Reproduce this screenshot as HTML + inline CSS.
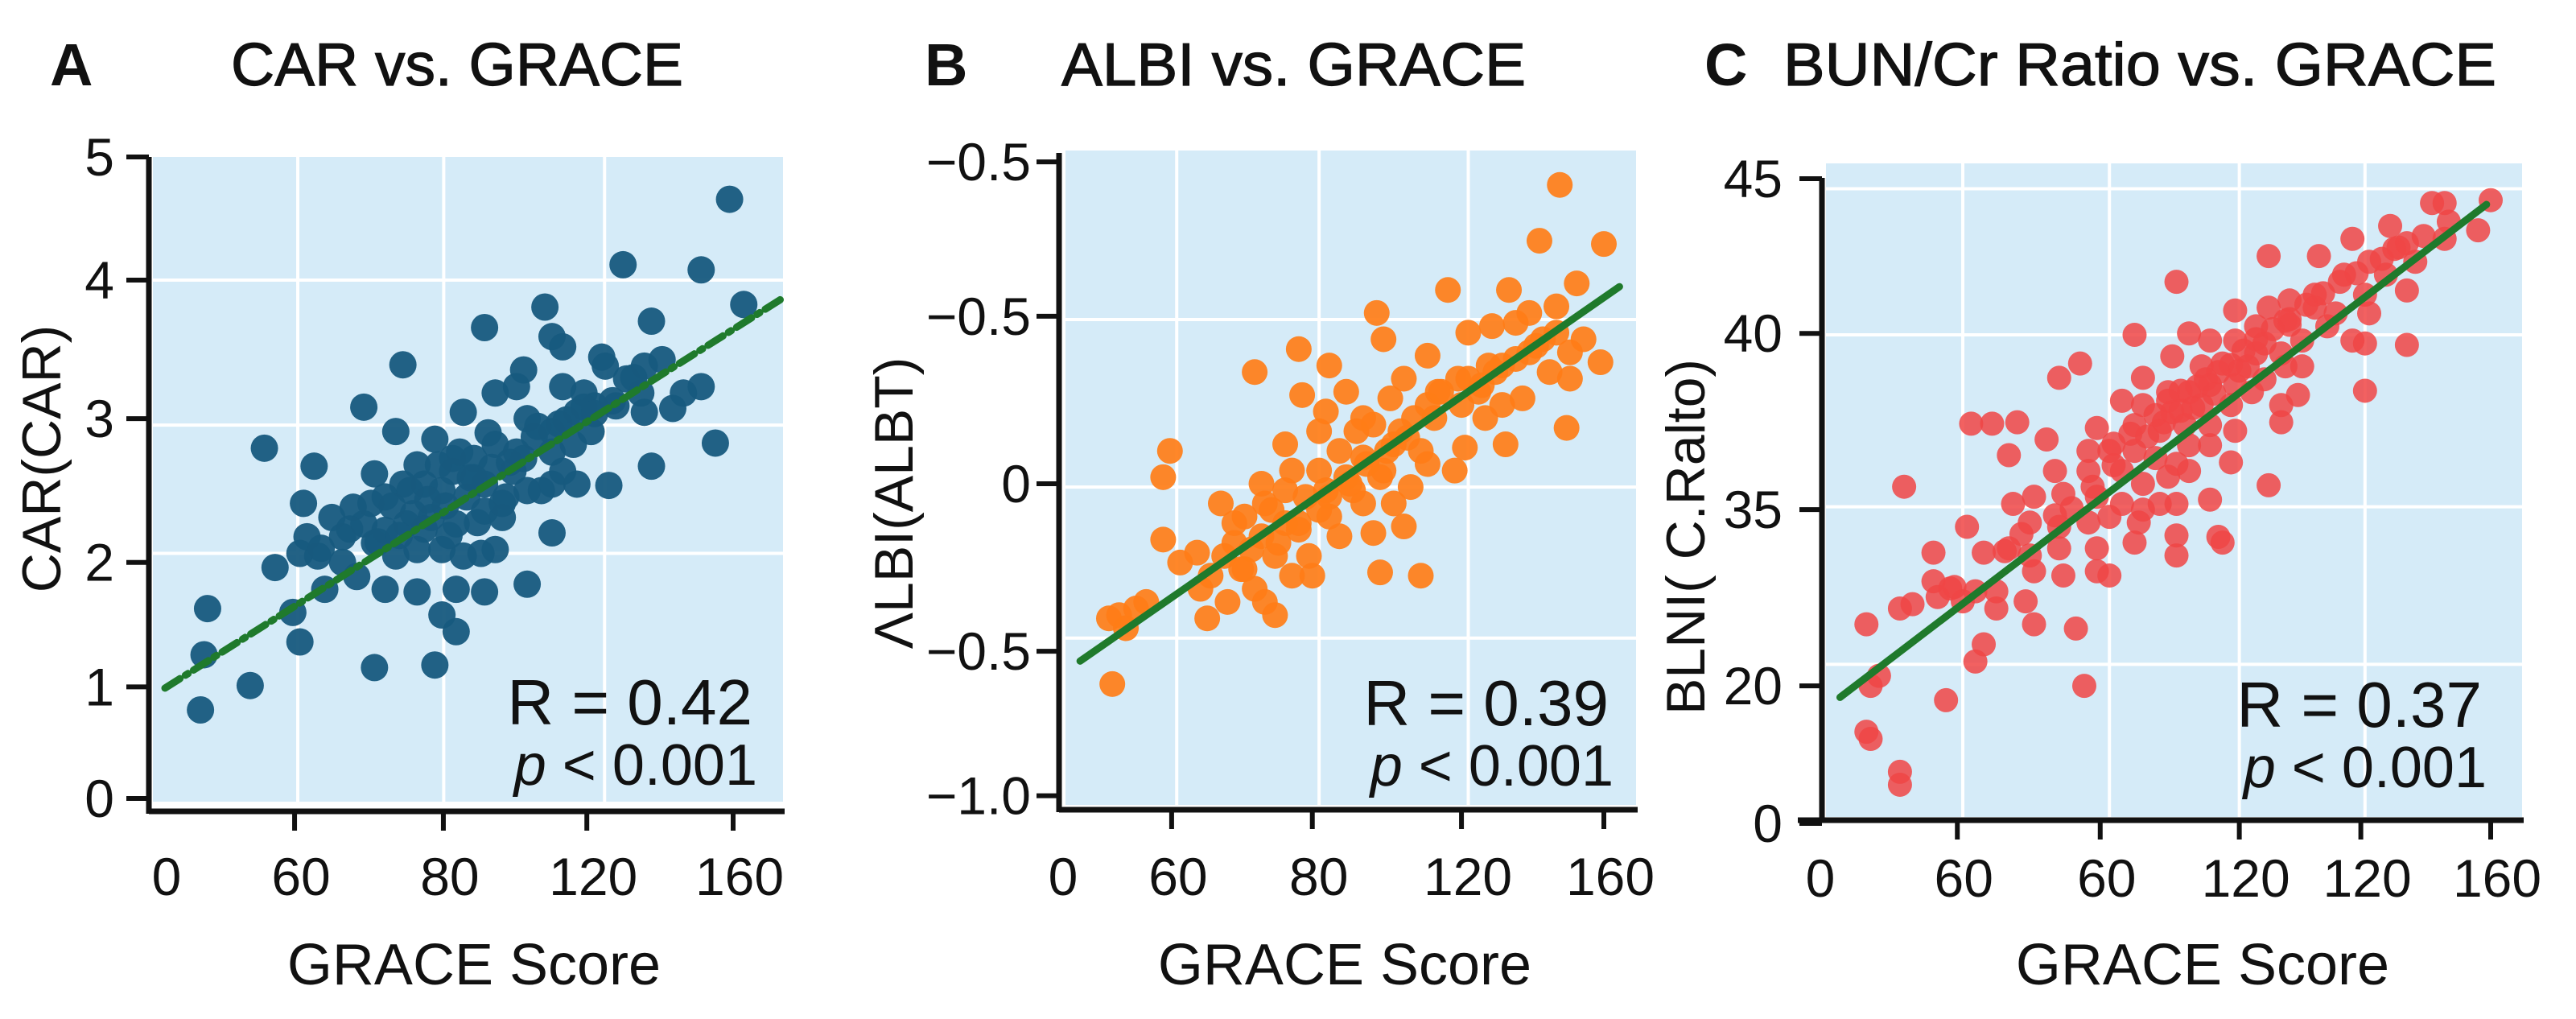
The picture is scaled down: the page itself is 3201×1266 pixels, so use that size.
<!DOCTYPE html>
<html><head><meta charset="utf-8"><style>
html,body{margin:0;padding:0;background:#fff;}
svg{display:block;font-family:"Liberation Sans",Arial,sans-serif;}
</style></head><body>
<svg id="chart" width="3201" height="1266" viewBox="0 0 3201 1266" xmlns="http://www.w3.org/2000/svg"></svg>
<script>
// ---------- Panel A data (GRACE score, CAR) ----------
const aX=[159,129,151,163,107,90,137,67,109,112,123,101,124,135,56,84,93,99,112,118,151,143,135,127,28,42,65,76,155,137,125,59,71,81,87,93,101,109,115,120,102,39,47,53,62,67,73,78,85,90,96,102,109,31,38,43,50,56,62,68,75,82,90,95,109,45,54,62,71,82,90,102,65,71,78,84,89,93,12,36,38,78,82,24,59,76,10,11,50,59,40,116,109,130,140,146,134,121,116,81,87,98,112,
  58,64,70,74,79,86,92,97,104,111,118,126,132,60,66,73,80,88,95,106,113,121,69,77,83,91,99,105,44,52];
const aY=[4.67,4.16,4.12,3.85,3.83,3.67,3.72,3.38,3.60,3.52,3.44,3.34,3.37,3.37,3.05,3.01,3.16,3.21,3.21,3.16,3.21,3.04,3.01,3.06,2.73,2.59,2.86,2.80,2.77,2.59,2.44,2.53,2.60,2.65,2.65,2.76,2.65,2.70,2.76,2.86,2.96,2.30,2.19,2.27,2.35,2.45,2.45,2.40,2.35,2.45,2.35,2.40,2.45,1.80,1.91,1.89,2.04,2.14,2.09,2.14,2.19,2.14,2.24,2.19,2.07,1.63,1.73,1.63,1.61,1.63,1.61,1.67,1.89,1.94,1.94,1.89,1.91,1.94,1.48,1.45,1.22,1.43,1.30,0.88,1.02,1.04,0.69,1.12,1.84,1.99,2.04,2.45,2.86,3.27,3.42,3.16,3.16,3.06,3.01,2.55,2.50,2.55,2.55,
  2.30,2.28,2.22,2.33,2.28,2.50,2.58,2.62,2.82,2.92,3.05,3.10,3.28,2.00,2.05,2.10,2.05,2.15,2.30,2.40,2.95,3.00,2.40,2.60,2.70,2.85,2.70,2.90,1.95,2.10];
const aTrend=[0,0.86,174,3.9];
const aXTickVals=[0,36.5,78.4,118.8,160];
const aXTickLabels=["0","60","80","120","160"];
const aYTickVals=[0,0.87,1.84,2.96,4.04,5];
const aYTickLabels=["0","1","2","3","4","5"];
const aGridX=[37.4,78.5,123.8];
const aGridY=[1.91,2.91,4.04];

// ---------- Panel B data (GRACE score, ALBI) ----------
const bX=[147,141,160,114,132,152,93,70,57,95,79,71,84,108,120,127,138,146,154,159,144,150,136,101,97,92,117,123,130,149,131,119,116,104,66,76,82,89,98,106,32,30,59,66,76,85,95,103,47,54,60,70,79,89,98,101,30,40,51,59,63,73,82,92,44,54,68,74,94,106,43,49,60,63,57,14,22,19,15,41,35,111,138,130,108,87,78,142,125,68,51,79,89,108,134,
  62,66,72,78,84,90,96,102,110,118,124,128,134,140,146,56,64,70,76,86,94,112,120,126,150,17,25,48,53,100];
const bY=[0.91,0.74,0.73,0.59,0.59,0.61,0.52,0.41,0.34,0.44,0.36,0.27,0.28,0.39,0.46,0.48,0.52,0.54,0.44,0.37,0.34,0.32,0.26,0.32,0.26,0.18,0.32,0.28,0.24,0.17,0.12,0.11,0.04,0.20,0.12,0.16,0.10,0.08,0.12,0.10,0.10,0.02,-0.00,-0.02,0.04,0.00,0.04,-0.01,-0.06,-0.10,-0.06,-0.12,-0.10,-0.06,-0.06,-0.13,-0.17,-0.21,-0.18,-0.16,-0.22,-0.22,-0.16,-0.15,-0.28,-0.26,-0.28,-0.28,-0.27,-0.28,-0.41,-0.36,-0.36,-0.40,-0.32,-0.41,-0.38,-0.44,-0.61,-0.32,-0.24,0.28,0.40,0.36,0.24,0.16,0.22,0.44,0.20,0.04,-0.12,-0.04,0.20,0.06,0.49,
  -0.08,-0.12,-0.04,-0.02,0.02,0.06,0.10,0.14,0.20,0.24,0.30,0.34,0.38,0.42,0.46,-0.20,-0.18,-0.14,-0.08,-0.02,0.02,0.28,0.32,0.36,0.40,-0.40,-0.36,-0.22,-0.26,0.16];
const bTrend=[5.5,-0.54,164.6,0.60];
const bXTickVals=[0,32.5,74,118,160];
const bXTickLabels=["0","60","80","120","160"];
const bYTickVals=[0.98,0.51,0,-0.51,-0.95];
const bYTickLabels=["\u22120.5","\u22120.5","0","\u22120.5","\u22121.0"];
const bGridX=[34,76,120];
const bGridY=[0.5,-0.01,-0.47];

// ---------- Panel C data (GRACE score, BUN/Cr) ----------
const cX=[146,149,160,157,136,127,137,107,119,140,131,125,140,130,118,112,85,99,107,111,104,99,93,88,115,121,127,130,140,131,75,104,110,115,96,91,84,62,57,77,83,88,93,99,106,111,130,114,72,77,84,91,98,110,66,75,81,87,93,99,36,41,47,54,45,64,69,75,80,85,93,98,56,64,72,77,83,88,107,93,20,46,51,58,66,72,77,85,35,50,57,64,69,76,85,95,27,39,45,50,57,66,75,85,96,27,31,37,42,51,58,66,69,19,22,34,42,49,51,61,39,37,11,14,12,30,63,11,12,19,19,110,102,123,135,142,149,103,88,81,
  80,83,86,89,92,95,98,101,104,108,112,116,120,124,128,134,138,144,150,70,74,78,82,86,90,94,100,106,112,118,60,65,70,56,44,48,32,28];
const cY=[43.3,43.3,43.5,41.4,41.7,40.8,40.1,39.6,39.6,40.5,39.2,38.3,37.2,36.9,36.9,36.5,37.8,35.8,36.0,35.1,34.7,33.7,33.7,34.2,33.7,34.7,33.7,33.5,33.4,35.6,34.1,32.8,32.8,31.9,32.1,31.9,32.6,32.1,31.1,31.1,30.1,30.1,30.6,30.6,31.0,31.9,30.2,29.9,29.5,29.2,28.7,29.2,29.2,28.0,27.6,27.8,27.4,27.8,27.8,27.4,27.9,27.9,28.0,26.8,25.7,26.0,26.0,26.0,25.5,25.1,26.4,25.2,24.6,24.6,24.6,23.7,24.2,24.6,23.6,22.6,23.5,22.3,22.8,23.0,22.8,22.3,21.9,22.3,20.7,21.0,20.7,21.0,21.4,21.0,20.1,20.0,18.9,18.9,19.2,18.7,19.2,19.2,19.6,18.7,19.6,16.9,16.4,16.2,16.2,17.6,17.3,17.6,17.3,15.0,15.3,15.5,15.0,15.5,13.9,13.6,12.5,11.3,13.9,10.3,9.6,8.6,9.6,6.4,5.9,3.6,2.7,29.2,31.9,35.6,38.3,39.2,40.8,30.1,26.4,22.3,
  28.5,29.5,30.2,29.0,31.0,31.5,32.0,33.0,33.8,34.5,35.2,36.2,37.0,37.8,38.4,39.4,40.2,41.0,42.0,26.5,27.2,27.0,28.0,28.8,30.5,30.0,31.6,33.5,34.8,36.0,22.0,23.5,25.0,21.5,19.0,20.2,16.5,15.8];
const cTrend=[4.7,8.8,159,43.2];
const cXTickVals=[0,32.7,66.8,100,129,160];
const cXTickLabels=["0","60","60","120","120","160"];
const cYTickVals=[0,9.6,21.9,34.2,45];
const cYTickLabels=["0","20","35","40","45"];
const cGridX=[34,69,100,130];
const cGridY=[44.3,34.1,22.1,11.1];

const NS="http://www.w3.org/2000/svg";
const svg=document.getElementById('chart');
function mk(tag,attrs,parent){const e=document.createElementNS(NS,tag);for(const k in attrs)e.setAttribute(k,attrs[k]);(parent||svg).appendChild(e);return e;}
function lin(d0,d1,r0,r1){return v=>r0+(v-d0)*(r1-r0)/(d1-d0);}

function panel(o){
  const g=mk('g',{});
  
  
  const xs=lin(0,160,o.xr[0],o.xr[1]);
  const ys=lin(o.yd[0],o.yd[1],o.yr[0],o.yr[1]);
  const bg=mk('rect',{x:o.bg[0],y:o.bg[1],width:o.bg[2]-o.bg[0],height:o.bg[3]-o.bg[1],fill:'#d5ebf8'},g);
  
  
  o.gx.forEach(v=>{const l=mk('line',{x1:xs(v),x2:xs(v),y1:o.bg[1],y2:o.bg[3],stroke:'#fff','stroke-width':4},g);
    
    });
  o.gy.forEach(v=>{const l=mk('line',{x1:o.bg[0],x2:o.bg[2],y1:ys(v),y2:ys(v),stroke:'#fff','stroke-width':4},g);
    
    });
  o.px.forEach((v,i)=>{const c=mk('circle',{cx:xs(v),cy:ys(o.py[i]),r:o.r,fill:o.color,'fill-opacity':o.op},g);
    
    });
  const t=o.trend;
  const tl=mk('line',{x1:xs(t[0]),y1:ys(t[1]),x2:xs(t[2]),y2:ys(t[3]),stroke:'#1f7a2c','stroke-width':9,'stroke-linecap':'round'},g);
  if(o.dash)tl.setAttribute('stroke-dasharray',o.dash);
  
  
  const ya=mk('line',{x1:o.ax,x2:o.ax,y1:o.ayTop,y2:o.axY+3,stroke:'#111','stroke-width':7},g);
  
  
  const xa=mk('line',{x1:o.axL,x2:o.bg[2]+2,y1:o.axY,y2:o.axY,stroke:'#111','stroke-width':7},g);
  
  
  o.xt.forEach((v,i)=>{
    if(v>0){const tk=mk('line',{x1:xs(v),x2:xs(v),y1:o.axY,y2:o.axY+24,stroke:'#111','stroke-width':6},g);
      
      }
    const tx=mk('text',{x:xs(v)+(v===0?o.zeroShift:8),y:o.xlabY,'font-size':66,'text-anchor':'middle',fill:'#111'},g);
    tx.textContent=o.xl[i];
    
    
  });
  o.yt.forEach((v,i)=>{
    const tk=mk('line',{x1:o.ax-28,x2:o.ax,y1:ys(v),y2:ys(v),stroke:'#111','stroke-width':6},g);
    
    
    const tx=mk('text',{x:o.ylabR,y:ys(v)+23,'font-size':66,'text-anchor':'end',fill:'#111'},g);
    tx.textContent=o.yl[i];
    
    
  });
  const lt=mk('text',{x:o.letter[0],y:106,'font-size':74,'font-weight':'bold',fill:'#111'},g);
  lt.textContent=o.letterText;
  
  
  const ti=mk('text',{x:o.title[0],y:106,'font-size':75,fill:'#111',stroke:'#111','stroke-width':1.2,textLength:o.title[1],lengthAdjust:'spacingAndGlyphs'},g);
  ti.textContent=o.titleText;
  
  
  const xt=mk('text',{x:o.xtitle,y:1223,'font-size':72,'text-anchor':'middle',fill:'#111'},g);
  xt.textContent='GRACE Score';
  
  
  const yt=mk('text',{x:0,y:0,'font-size':68,'text-anchor':'middle',fill:'#111',transform:`translate(${o.ytitle[0]+24},${o.ytitle[1]}) rotate(-90)`},g);
  yt.textContent=o.ytitleText;
  
  
  const rt=mk('text',{x:o.stat[0],y:o.stat[1],'font-size':80,'text-anchor':'end',fill:'#111'},g);
  rt.textContent=o.rText;
  
  
  const pt=mk('text',{x:o.stat[0]+6,y:o.stat[1]+75,'font-size':72,'text-anchor':'end',fill:'#111'},g);
  const pi=mk('tspan',{'font-style':'italic'},pt);pi.textContent='p';
  const pr=mk('tspan',{},pt);pr.textContent=' < 0.001';
  
  
}

panel({key:'car',xr:[205,911],yd:[0,5],yr:[992,195],bg:[190,195,973,996],gx:aGridX,gy:aGridY,px:aX,py:aY,r:17,color:'#175a7e',op:0.95,trend:aTrend,dash:'22 8 4 8',
  ax:185,ayTop:195,axY:1008,axL:185,xt:aXTickVals,xl:aXTickLabels,yt:aYTickVals,yl:aYTickLabels,xlabY:1112,ylabR:142,zeroShift:2,
  letter:[62],letterText:'A',title:[287,562],titleText:'CAR vs. GRACE',xtitle:589,ytitle:[51,570],ytitleText:'CAR(CAR)',stat:[935,900],rText:'R = 0.42'});
panel({key:'albi',xr:[1319,1993],yd:[0,1],yr:[601,193],bg:[1324,187,2033,1000],gx:bGridX,gy:bGridY,px:bX,py:bY,r:16,color:'#ff7d17',op:0.92,trend:bTrend,
  ax:1316,ayTop:190,axY:1006,axL:1316,xt:bXTickVals,xl:bXTickLabels,yt:bYTickVals,yl:bYTickLabels,xlabY:1112,ylabR:1281,zeroShift:2,
  letter:[1149],letterText:'B',title:[1319,577],titleText:'ALBI vs. GRACE',xtitle:1671,ytitle:[1110,625],ytitleText:'\u039BLB\u0399(ALBT)',stat:[1999,901],rText:'R = 0.39'});
panel({key:'bun',xr:[2262,3095],yd:[0,45],yr:[1023,222],bg:[2269,203,3134,1015],gx:cGridX,gy:cGridY,px:cX,py:cY,r:15,color:'#f04545',op:0.85,trend:cTrend,
  ax:2264,ayTop:221,axY:1019,axL:2234,xt:cXTickVals,xl:cXTickLabels,yt:cYTickVals,yl:cYTickLabels,xlabY:1114,ylabR:2215,zeroShift:0,
  letter:[2118],letterText:'C',title:[2216,886],titleText:'BUN/Cr Ratio vs. GRACE',xtitle:2737,ytitle:[2094,667],ytitleText:'BLN\u0399( C.Ralto)',stat:[3084,903],rText:'R = 0.37'});
</script>
</body></html>
